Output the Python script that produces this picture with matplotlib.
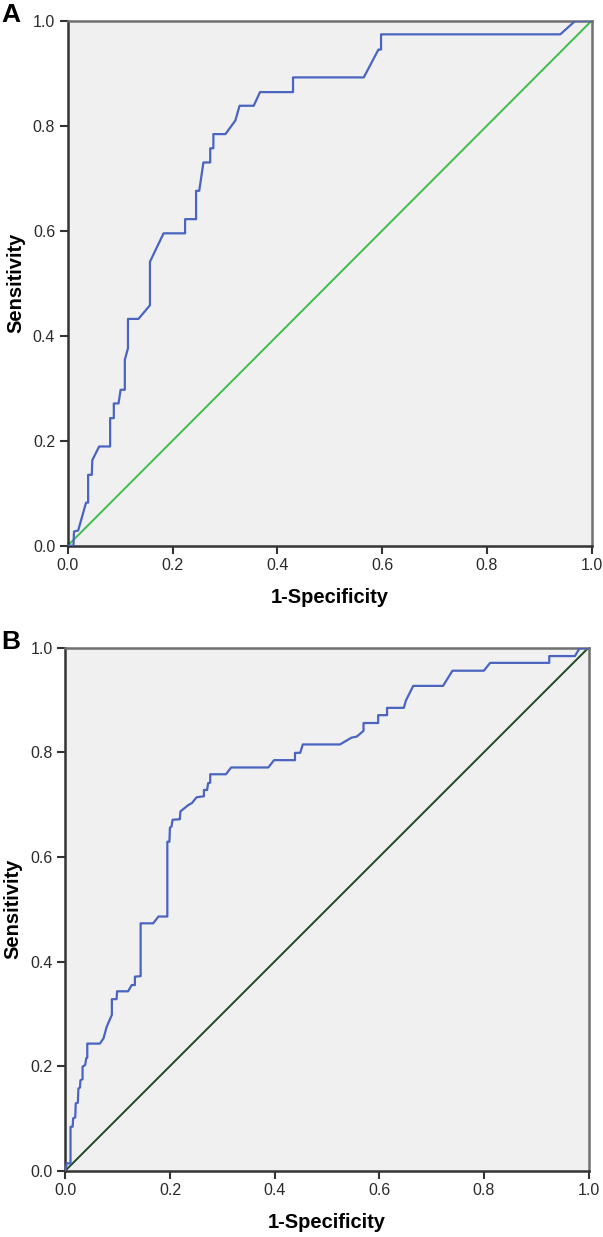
import numpy as np
import matplotlib.pyplot as plt

plt.rcParams['font.family'] = ['Liberation Sans', 'DejaVu Sans']

# ROC curve A (1-specificity, sensitivity)
fpr_a = [0.0, 0.011, 0.012, 0.020, 0.035, 0.039, 0.039, 0.046, 0.047, 0.060, 0.081, 0.081,
         0.088, 0.088, 0.097, 0.101, 0.109, 0.109, 0.115, 0.115, 0.135, 0.157, 0.157, 0.183,
         0.224, 0.224, 0.245, 0.245, 0.251, 0.259, 0.272, 0.272, 0.278, 0.278, 0.301, 0.320,
         0.328, 0.355, 0.367, 0.430, 0.430, 0.565, 0.593, 0.598, 0.598, 0.940, 0.969, 1.0]
tpr_a = [0.0, 0.0, 0.027, 0.029, 0.082, 0.082, 0.135, 0.135, 0.163, 0.189, 0.189, 0.243,
         0.243, 0.271, 0.271, 0.297, 0.297, 0.354, 0.376, 0.432, 0.432, 0.458, 0.541, 0.595,
         0.595, 0.622, 0.622, 0.676, 0.676, 0.730, 0.730, 0.757, 0.757, 0.784, 0.784, 0.810,
         0.838, 0.838, 0.864, 0.864, 0.892, 0.892, 0.945, 0.945, 0.974, 0.974, 1.0, 1.0]

# ROC curve B
fpr_b = [0.0, 0.003, 0.010, 0.010, 0.014, 0.015, 0.019, 0.020, 0.024, 0.025, 0.028, 0.029,
         0.033, 0.033, 0.038, 0.040, 0.042, 0.042, 0.066, 0.073, 0.079, 0.089, 0.089, 0.098,
         0.099, 0.120, 0.127, 0.133, 0.133, 0.144, 0.144, 0.168, 0.178, 0.195, 0.195, 0.199,
         0.200, 0.203, 0.205, 0.219, 0.220, 0.235, 0.242, 0.251, 0.265, 0.265, 0.271, 0.273,
         0.277, 0.277, 0.307, 0.317, 0.388, 0.399, 0.439, 0.439, 0.449, 0.454, 0.525, 0.547,
         0.557, 0.570, 0.570, 0.598, 0.598, 0.615, 0.615, 0.647, 0.651, 0.665, 0.722, 0.740,
         0.800, 0.812, 0.925, 0.925, 0.974, 0.983, 1.0]
tpr_b = [0.0, 0.014, 0.014, 0.084, 0.084, 0.100, 0.102, 0.129, 0.130, 0.157, 0.159, 0.173,
         0.175, 0.199, 0.202, 0.215, 0.216, 0.243, 0.243, 0.253, 0.275, 0.298, 0.328, 0.328,
         0.343, 0.343, 0.355, 0.355, 0.371, 0.372, 0.473, 0.473, 0.486, 0.486, 0.629, 0.629,
         0.656, 0.658, 0.671, 0.672, 0.687, 0.699, 0.703, 0.714, 0.716, 0.728, 0.728, 0.741,
         0.742, 0.758, 0.758, 0.771, 0.771, 0.785, 0.785, 0.799, 0.799, 0.815, 0.815, 0.828,
         0.830, 0.841, 0.856, 0.856, 0.871, 0.871, 0.885, 0.885, 0.899, 0.927, 0.927, 0.956,
         0.956, 0.971, 0.971, 0.984, 0.984, 0.999, 1.0]

ref = [0.0, 1.0]
ticks = [0.0, 0.2, 0.4, 0.6, 0.8, 1.0]
tick_labels = ['0.0', '0.2', '0.4', '0.6', '0.8', '1.0']

W, H = 603, 1237
fig = plt.figure(figsize=(W / 100, H / 100), dpi=100)

# axes boxes in pixels: left, top, right, bottom
boxes = [(67.7, 20.7, 591.7, 545.7), (65.3, 647.7, 588.5, 1170.7)]
curves = [(fpr_a, tpr_a), (fpr_b, tpr_b)]
diag_colors = ['#3dbd4c', '#1d4a22']
letters = ['A', 'B']

for (l, t, r, b), (fx, ty), dc, letter in zip(boxes, curves, diag_colors, letters):
    ax = fig.add_axes([l / W, 1 - b / H, (r - l) / W, (b - t) / H])
    ax.set_facecolor('#f0f0f0')
    ax.plot(ref, ref, color=dc, lw=1.4, zorder=2)
    ax.plot(fx, ty, color='#4a64bf', lw=1.6, zorder=3)
    ax.set_xlim(0, 1)
    ax.set_ylim(0, 1)
    ax.set_xticks(ticks)
    ax.set_xticklabels(tick_labels)
    ax.set_yticks(ticks)
    ax.set_yticklabels(tick_labels)
    ax.tick_params(direction='out', length=6, width=1.5, color='#333333',
                   labelsize=11.5, labelcolor='#2a2a2a', pad=3)
    for side in ['left', 'bottom']:
        ax.spines[side].set_color('#333333')
        ax.spines[side].set_linewidth(1.8)
    for side in ['top', 'right']:
        ax.spines[side].set_color('#707070')
        ax.spines[side].set_linewidth(1.8)
    ax.set_xlabel('1-Specificity', fontsize=14.5, fontweight='bold', va='center')
    ax.set_ylabel('Sensitivity', fontsize=14.5, fontweight='bold', va='center')
    ax.xaxis.set_label_coords(0.5, -(52 / (b - t)))
    ax.yaxis.set_label_coords(-(52 / (r - l)), 0.5)
    fig.text(1 / W, 1 - (t - 6) / H, letter, fontsize=19, fontweight='bold',
             ha='left', va='center')

fig.savefig('out.png', dpi=100)
